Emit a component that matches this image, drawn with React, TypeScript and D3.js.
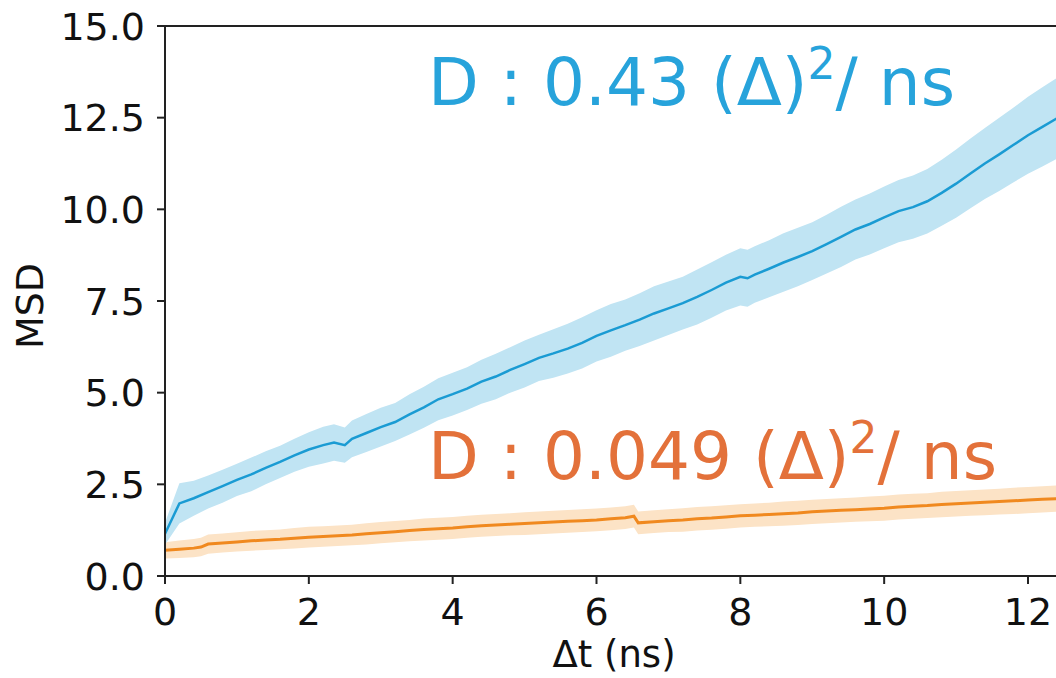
import React from "react";
import * as d3 from "d3";

const blueT = [0, 0.2, 0.4, 0.6, 0.8, 1.0, 1.2, 1.4, 1.6, 1.8, 2.0, 2.2, 2.35, 2.5, 2.6, 2.8, 3.0, 3.2, 3.4, 3.6, 3.8, 4.0, 4.2, 4.4, 4.6, 4.8, 5.0, 5.2, 5.4, 5.6, 5.8, 6.0, 6.2, 6.4, 6.6, 6.8, 7.0, 7.2, 7.4, 7.6, 7.8, 8.0, 8.1, 8.2, 8.4, 8.6, 8.8, 9.0, 9.2, 9.4, 9.6, 9.8, 10.0, 10.2, 10.4, 10.6, 10.8, 11.0, 11.2, 11.4, 11.6, 11.8, 12.0, 12.2, 12.4];
const blueMSD = [1.15, 1.98, 2.12, 2.29, 2.45, 2.62, 2.77, 2.95, 3.11, 3.29, 3.45, 3.57, 3.64, 3.57, 3.74, 3.9, 4.06, 4.2, 4.41, 4.6, 4.82, 4.96, 5.11, 5.3, 5.44, 5.62, 5.78, 5.95, 6.07, 6.2, 6.36, 6.55, 6.7, 6.84, 6.99, 7.16, 7.3, 7.44, 7.61, 7.8, 8.0, 8.16, 8.12, 8.22, 8.38, 8.55, 8.7, 8.86, 9.05, 9.25, 9.45, 9.6, 9.78, 9.95, 10.06, 10.22, 10.45, 10.7, 10.98, 11.25, 11.5, 11.76, 12.02, 12.25, 12.48];
const blueSpread = [0.3, 0.55, 0.48, 0.45, 0.45, 0.44, 0.46, 0.45, 0.44, 0.45, 0.47, 0.5, 0.5, 0.48, 0.5, 0.52, 0.53, 0.52, 0.55, 0.56, 0.57, 0.58, 0.58, 0.6, 0.62, 0.62, 0.64, 0.63, 0.66, 0.68, 0.7, 0.7, 0.72, 0.7, 0.72, 0.74, 0.73, 0.72, 0.75, 0.76, 0.76, 0.78, 0.78, 0.77, 0.78, 0.8, 0.8, 0.79, 0.8, 0.82, 0.82, 0.83, 0.84, 0.85, 0.86, 0.88, 0.9, 0.93, 0.95, 0.97, 1.0, 1.02, 1.05, 1.08, 1.1];

const orangeT = [0, 0.2, 0.4, 0.5, 0.6, 0.8, 1.0, 1.2, 1.4, 1.6, 1.8, 2.0, 2.2, 2.4, 2.6, 2.8, 3.0, 3.2, 3.4, 3.6, 3.8, 4.0, 4.2, 4.4, 4.6, 4.8, 5.0, 5.2, 5.4, 5.6, 5.8, 6.0, 6.2, 6.4, 6.52, 6.58, 6.8, 7.0, 7.2, 7.4, 7.6, 7.8, 8.0, 8.2, 8.4, 8.6, 8.8, 9.0, 9.2, 9.4, 9.6, 9.8, 10.0, 10.2, 10.4, 10.6, 10.8, 11.0, 11.2, 11.4, 11.6, 11.8, 12.0, 12.2, 12.4];
const orangeMSD = [0.7, 0.73, 0.76, 0.79, 0.87, 0.9, 0.93, 0.96, 0.98, 1.0, 1.03, 1.06, 1.08, 1.1, 1.12, 1.15, 1.18, 1.21, 1.24, 1.27, 1.29, 1.31, 1.34, 1.37, 1.39, 1.41, 1.43, 1.45, 1.47, 1.49, 1.51, 1.53, 1.56, 1.59, 1.63, 1.45, 1.48, 1.51, 1.53, 1.56, 1.58, 1.61, 1.64, 1.66, 1.68, 1.7, 1.72, 1.75, 1.77, 1.79, 1.81, 1.83, 1.85, 1.88, 1.9, 1.92, 1.95, 1.97, 1.99, 2.01, 2.03, 2.05, 2.07, 2.09, 2.11];
const orangeSpread = [0.22, 0.24, 0.25, 0.25, 0.26, 0.26, 0.26, 0.27, 0.27, 0.27, 0.28, 0.28, 0.28, 0.28, 0.28, 0.29, 0.29, 0.29, 0.29, 0.3, 0.3, 0.3, 0.3, 0.3, 0.3, 0.3, 0.31, 0.31, 0.31, 0.31, 0.31, 0.31, 0.31, 0.31, 0.31, 0.31, 0.31, 0.31, 0.32, 0.32, 0.32, 0.32, 0.32, 0.32, 0.32, 0.33, 0.33, 0.33, 0.33, 0.33, 0.33, 0.34, 0.34, 0.34, 0.34, 0.34, 0.35, 0.35, 0.35, 0.35, 0.35, 0.36, 0.36, 0.36, 0.36];

const xTicks = [0, 2, 4, 6, 8, 10, 12];
const yTicks = [0, 2.5, 5, 7.5, 10, 12.5, 15];
const blueLabel = ["D : 0.43 (Δ)", "2", "/ ns"];
const orangeLabel = ["D : 0.049 (Δ)", "2", "/ ns"];
const xTitle = "Δt (ns)";
const yTitle = "MSD";

const W = 1056;
const H = 678;
const FONT = "DejaVu Sans, sans-serif";

function Label({ x, y, parts, color }: { x: number; y: number; parts: string[]; color: string }) {
  return (
    <text x={x} y={y} fontSize={66} fill={color}>
      <tspan>{parts[0]}</tspan>
      <tspan fontSize={44} dy={-26}>{parts[1]}</tspan>
      <tspan dy={26}>{parts[2]}</tspan>
    </text>
  );
}

export default function App() {
  const x = d3.scaleLinear().domain([0, 12]).range([165, 1028]);
  const y = d3.scaleLinear().domain([0, 15]).range([576, 26]);

  const mk = (t: number[], m: number[], s: number[]) =>
    t.map((tt, i) => ({ t: tt, m: m[i], s: s[i] }));
  const blue = mk(blueT, blueMSD, blueSpread);
  const orange = mk(orangeT, orangeMSD, orangeSpread);

  const area = d3
    .area<{ t: number; m: number; s: number }>()
    .x((d) => x(d.t))
    .y0((d) => y(d.m - d.s))
    .y1((d) => y(d.m + d.s));
  const line = d3
    .line<{ t: number; m: number; s: number }>()
    .x((d) => x(d.t))
    .y((d) => y(d.m));

  const left = x(0);
  const bottom = y(0);
  const top = y(15);

  return (
    <svg
      width={W}
      height={H}
      style={{ position: "absolute", left: 0, top: 0, background: "#fff" }}
      fontFamily={FONT}
    >
      <defs>
        <clipPath id="plot">
          <rect x={left} y={top} width={W - left} height={bottom - top} />
        </clipPath>
      </defs>
      <g clipPath="url(#plot)">
        <path d={area(orange) || ""} fill="#fce3c6" />
        <path d={area(blue) || ""} fill="#c0e4f3" />
        <path d={line(orange) || ""} fill="none" stroke="#f0891f" strokeWidth={3} />
        <path d={line(blue) || ""} fill="none" stroke="#1a9bd3" strokeWidth={2.5} />
      </g>

      <line x1={left} x2={left} y1={top} y2={bottom} stroke="#222" strokeWidth={2} />
      <line x1={left - 1} x2={W} y1={bottom} y2={bottom} stroke="#222" strokeWidth={2} />
      <line x1={left - 1} x2={W} y1={top} y2={top} stroke="#222" strokeWidth={2} />

      {yTicks.map((v) => (
        <g key={"y" + v}>
          <line x1={left - 8} x2={left} y1={y(v)} y2={y(v)} stroke="#222" strokeWidth={2} />
          <text x={145} y={y(v)} dy="0.36em" textAnchor="end" fontSize={38} fill="#111">
            {v.toFixed(1)}
          </text>
        </g>
      ))}
      {xTicks.map((v) => (
        <g key={"x" + v}>
          <line x1={x(v)} x2={x(v)} y1={bottom} y2={bottom + 8} stroke="#222" strokeWidth={2} />
          <text x={x(v)} y={625} textAnchor="middle" fontSize={38} fill="#111">
            {v}
          </text>
        </g>
      ))}

      <text x={614} y={667} textAnchor="middle" fontSize={37} fill="#111">
        {xTitle}
      </text>
      <text transform="translate(43,306) rotate(-90)" textAnchor="middle" fontSize={38} fill="#111">
        {yTitle}
      </text>

      <Label x={428} y={105} parts={blueLabel} color="#27a3db" />
      <Label x={428} y={479} parts={orangeLabel} color="#e3713a" />
    </svg>
  );
}
